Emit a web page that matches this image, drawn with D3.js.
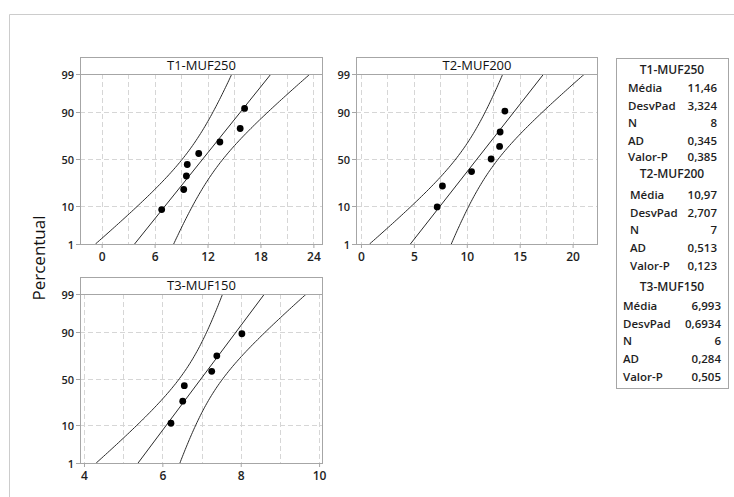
<!DOCTYPE html>
<html><head><meta charset="utf-8">
<script src="https://cdn.jsdelivr.net/npm/d3@7"></script>
<style>
body{margin:0;background:#fff}
svg{display:block}
text{font-family:"Open Sans","Noto Sans",sans-serif}
</style>
</head><body>
<svg id="chart" width="734" height="497"></svg>
<script>
// ---------------- DATA ----------------
const panelNames = ["T1-MUF250", "T2-MUF200", "T3-MUF150"];
const t1Values   = [6.8, 9.3, 9.6, 9.7, 11.0, 13.4, 15.7, 16.2];
const t1Percents = [8.3, 20.2, 32.1, 44.0, 56.0, 67.9, 79.8, 91.7];
const t2Values   = [7.2, 7.7, 10.45, 12.3, 13.1, 13.15, 13.6];
const t2Percents = [9.5, 23.0, 36.5, 50.0, 63.5, 77.0, 90.5];
const t3Values   = [6.22, 6.52, 6.56, 7.26, 7.39, 8.03];
const t3Percents = [10.9, 26.6, 42.2, 57.8, 73.4, 89.1];
const means   = [11.46, 10.97, 6.993];
const stdevs  = [3.324, 2.707, 0.6934];
const counts  = [8, 7, 6];
const adStats = [0.345, 0.513, 0.284];
const pValues = [0.385, 0.123, 0.505];
const yTickPercents = [1, 10, 50, 90, 99];
const xTicks1 = [0, 6, 12, 18, 24];
const xGrid1  = [0, 3, 6, 9, 12, 15, 18, 21, 24];
const xTicks2 = [0, 5, 10, 15, 20];
const xGrid2  = [0, 2.5, 5, 7.5, 10, 12.5, 15, 17.5, 20];
const xTicks3 = [4, 6, 8, 10];
const xGrid3  = [4, 5, 6, 7, 8, 9, 10];
const yLabel = "Percentual";
const statLabels = ["Média", "DesvPad", "N", "AD", "Valor-P"];

// ---------------- HELPERS ----------------
function normInv(p) { // Acklam's approximation
  const a=[-3.969683028665376e+01,2.209460984245205e+02,-2.759285104469687e+02,1.383577518672690e+02,-3.066479806614716e+01,2.506628277459239e+00];
  const b=[-5.447609879822406e+01,1.615858368580409e+02,-1.556989798598866e+02,6.680131188771972e+01,-1.328068155288572e+01];
  const c=[-7.784894002430293e-03,-3.223964580411365e-01,-2.400758277161838e+00,-2.549732539343734e+00,4.374664141464968e+00,2.938163982698783e+00];
  const d=[7.784695709041462e-03,3.224671290700398e-01,2.445134137142996e+00,3.754408661907416e+00];
  const pl=0.02425, ph=1-pl;
  let q,r;
  if(p<pl){q=Math.sqrt(-2*Math.log(p));return (((((c[0]*q+c[1])*q+c[2])*q+c[3])*q+c[4])*q+c[5])/((((d[0]*q+d[1])*q+d[2])*q+d[3])*q+1);}
  if(p<=ph){q=p-0.5;r=q*q;return (((((a[0]*r+a[1])*r+a[2])*r+a[3])*r+a[4])*r+a[5])*q/(((((b[0]*r+b[1])*r+b[2])*r+b[3])*r+b[4])*r+1);}
  q=Math.sqrt(-2*Math.log(1-p));return -(((((c[0]*q+c[1])*q+c[2])*q+c[3])*q+c[4])*q+c[5])/((((d[0]*q+d[1])*q+d[2])*q+d[3])*q+1);
}
const loc = d3.formatLocale({decimal: ",", thousands: ".", grouping: [3], currency: ["", ""]});
const f4 = loc.format(".4~r"), f3 = loc.format(".3f"), fInt = loc.format("d");

// ---------------- LAYOUT ----------------
const panels = [
  {name: panelNames[0], vals: t1Values, pct: t1Percents, ticks: xTicks1, grid: xGrid1, dom: [-2.46, 25.09], x0: 80,  x1: 323, y0: 74,  y1: 244},
  {name: panelNames[1], vals: t2Values, pct: t2Percents, ticks: xTicks2, grid: xGrid2, dom: [-0.47, 22.40], x0: 356, x1: 598, y0: 74,  y1: 244},
  {name: panelNames[2], vals: t3Values, pct: t3Percents, ticks: xTicks3, grid: xGrid3, dom: [3.898, 10.10], x0: 80,  x1: 323, y0: 294, y1: 463}
];
const titleH = 17;
const frameCol = "#a6a6a6", gridCol = "#d6d6d6", textCol = "#1e1e1e", lineCol = "#2a2a2a";

const svg = d3.select("#chart");
// outer frame
svg.append("path").attr("d", "M9.5,497 V14.5 H734").attr("fill", "none").attr("stroke", "#cccccc");

// y axis title
svg.append("text").attr("transform", "translate(45,258) rotate(-90)")
  .attr("text-anchor", "middle").attr("font-size", 17).attr("fill", "#111").text(yLabel);

const zLo = normInv(0.01), zHi = normInv(0.99);

panels.forEach((p, i) => {
  const x = d3.scaleLinear().domain(p.dom).range([p.x0, p.x1]);
  const y = d3.scaleLinear().domain([zLo, zHi]).range([p.y1, p.y0]);
  const g = svg.append("g");
  const clipId = "clip" + i;
  svg.append("clipPath").attr("id", clipId).append("rect")
    .attr("x", p.x0).attr("y", p.y0).attr("width", p.x1 - p.x0).attr("height", p.y1 - p.y0);

  // grid
  g.selectAll(".vg").data(p.grid).join("line")
    .attr("x1", d => Math.round(x(d)) + 0.5).attr("x2", d => Math.round(x(d)) + 0.5)
    .attr("y1", p.y0).attr("y2", p.y1)
    .attr("stroke", gridCol).attr("stroke-dasharray", "5,3");
  g.selectAll(".hg").data(yTickPercents.filter(v => v > 1 && v < 99)).join("line")
    .attr("x1", p.x0).attr("x2", p.x1)
    .attr("y1", d => Math.round(y(normInv(d / 100))) + 0.5).attr("y2", d => Math.round(y(normInv(d / 100))) + 0.5)
    .attr("stroke", gridCol).attr("stroke-dasharray", "5,3");

  // y ticks + labels
  yTickPercents.forEach(v => {
    const yy = Math.round(y(normInv(v / 100))) + 0.5;
    g.append("line").attr("x1", p.x0 - 4).attr("x2", p.x0).attr("y1", yy).attr("y2", yy).attr("stroke", frameCol);
    g.append("text").attr("x", p.x0 - 6).attr("y", yy + 4).attr("text-anchor", "end")
      .attr("font-size", 11).attr("font-weight", 600).attr("fill", textCol).text(v);
  });
  // x ticks + labels
  const xAxis = d3.axisBottom(x).tickValues(p.ticks).tickFormat(d3.format("d")).tickSize(4).tickSizeOuter(0);
  const ax = g.append("g").attr("transform", `translate(0,${p.y1})`).call(xAxis);
  ax.select(".domain").remove();
  ax.selectAll(".tick line").attr("stroke", frameCol);
  ax.selectAll(".tick text").attr("font-size", 12).attr("font-weight", 600).attr("fill", textCol)
    .attr("font-family", '"Open Sans","Noto Sans",sans-serif').attr("dy", null).attr("y", 16.5);

  // frame
  g.append("rect").attr("x", p.x0 + 0.5).attr("y", p.y0 + 0.5).attr("width", p.x1 - p.x0 - 1).attr("height", p.y1 - p.y0)
    .attr("fill", "none").attr("stroke", frameCol);

  // fit line & confidence bands (from the panel's mean / stdev / N)
  const mu = means[i], sd = stdevs[i], n = counts[i];
  const zs = d3.range(0, 101).map(k => zLo + (zHi - zLo) * k / 100);
  const half = z => 1.96 * sd * Math.sqrt((1 + z * z / 2) / n);
  const lineGen = fn => d3.line().x(z => x(fn(z))).y(z => y(z))(zs);
  const cg = g.append("g").attr("clip-path", `url(#${clipId})`);
  cg.append("path").attr("d", lineGen(z => mu + sd * z - half(z))).attr("fill", "none").attr("stroke", lineCol).attr("stroke-width", 1);
  cg.append("path").attr("d", lineGen(z => mu + sd * z + half(z))).attr("fill", "none").attr("stroke", lineCol).attr("stroke-width", 1);
  cg.append("line").attr("x1", x(mu + sd * zLo)).attr("y1", y(zLo)).attr("x2", x(mu + sd * zHi)).attr("y2", y(zHi))
    .attr("stroke", lineCol).attr("stroke-width", 1);

  // points
  g.selectAll(".pt").data(p.vals).join("circle")
    .attr("cx", d => x(d)).attr("cy", (d, k) => y(normInv(p.pct[k] / 100)))
    .attr("r", 3.4).attr("fill", "#000");

  // title strip
  g.append("rect").attr("x", p.x0 + 0.5).attr("y", p.y0 - titleH + 0.5).attr("width", p.x1 - p.x0 - 1).attr("height", titleH)
    .attr("fill", "#fff").attr("stroke", frameCol);
  g.append("text").attr("x", (p.x0 + p.x1) / 2).attr("y", p.y0 - 4).attr("text-anchor", "middle")
    .attr("font-size", 13).attr("fill", "#111").text(p.name);
});

// ---------------- LEGEND TABLE ----------------
const lg = svg.append("g");
lg.append("rect").attr("x", 616.5).attr("y", 58.5).attr("width", 112).attr("height", 330)
  .attr("fill", "#fff").attr("stroke", "#a6a6a6");
const blocks = [
  {titleY: 74, rowY: [92, 109.5, 127, 144.5, 161], labX: 628, valX: 717},
  {titleY: 178, rowY: [198.5, 216.5, 234, 252, 270], labX: 630, valX: 717},
  {titleY: 291, rowY: [310, 327.5, 345, 363, 381], labX: 623, valX: 721}
];
blocks.forEach((b, i) => {
  lg.append("text").attr("x", 672).attr("y", b.titleY).attr("text-anchor", "middle")
    .attr("font-size", 12).attr("font-weight", 600).attr("fill", textCol).text(panelNames[i]);
  const vals = [f4(means[i]), f4(stdevs[i]), fInt(counts[i]), f3(adStats[i]), f3(pValues[i])];
  statLabels.forEach((lab, k) => {
    lg.append("text").attr("x", b.labX).attr("y", b.rowY[k]).attr("font-size", 11.5).attr("font-weight", 600)
      .attr("fill", textCol).text(lab);
    lg.append("text").attr("x", b.valX).attr("y", b.rowY[k]).attr("text-anchor", "end").attr("font-size", 11.5)
      .attr("font-weight", 600).attr("fill", textCol).text(vals[k]);
  });
});
</script>
</body></html>
